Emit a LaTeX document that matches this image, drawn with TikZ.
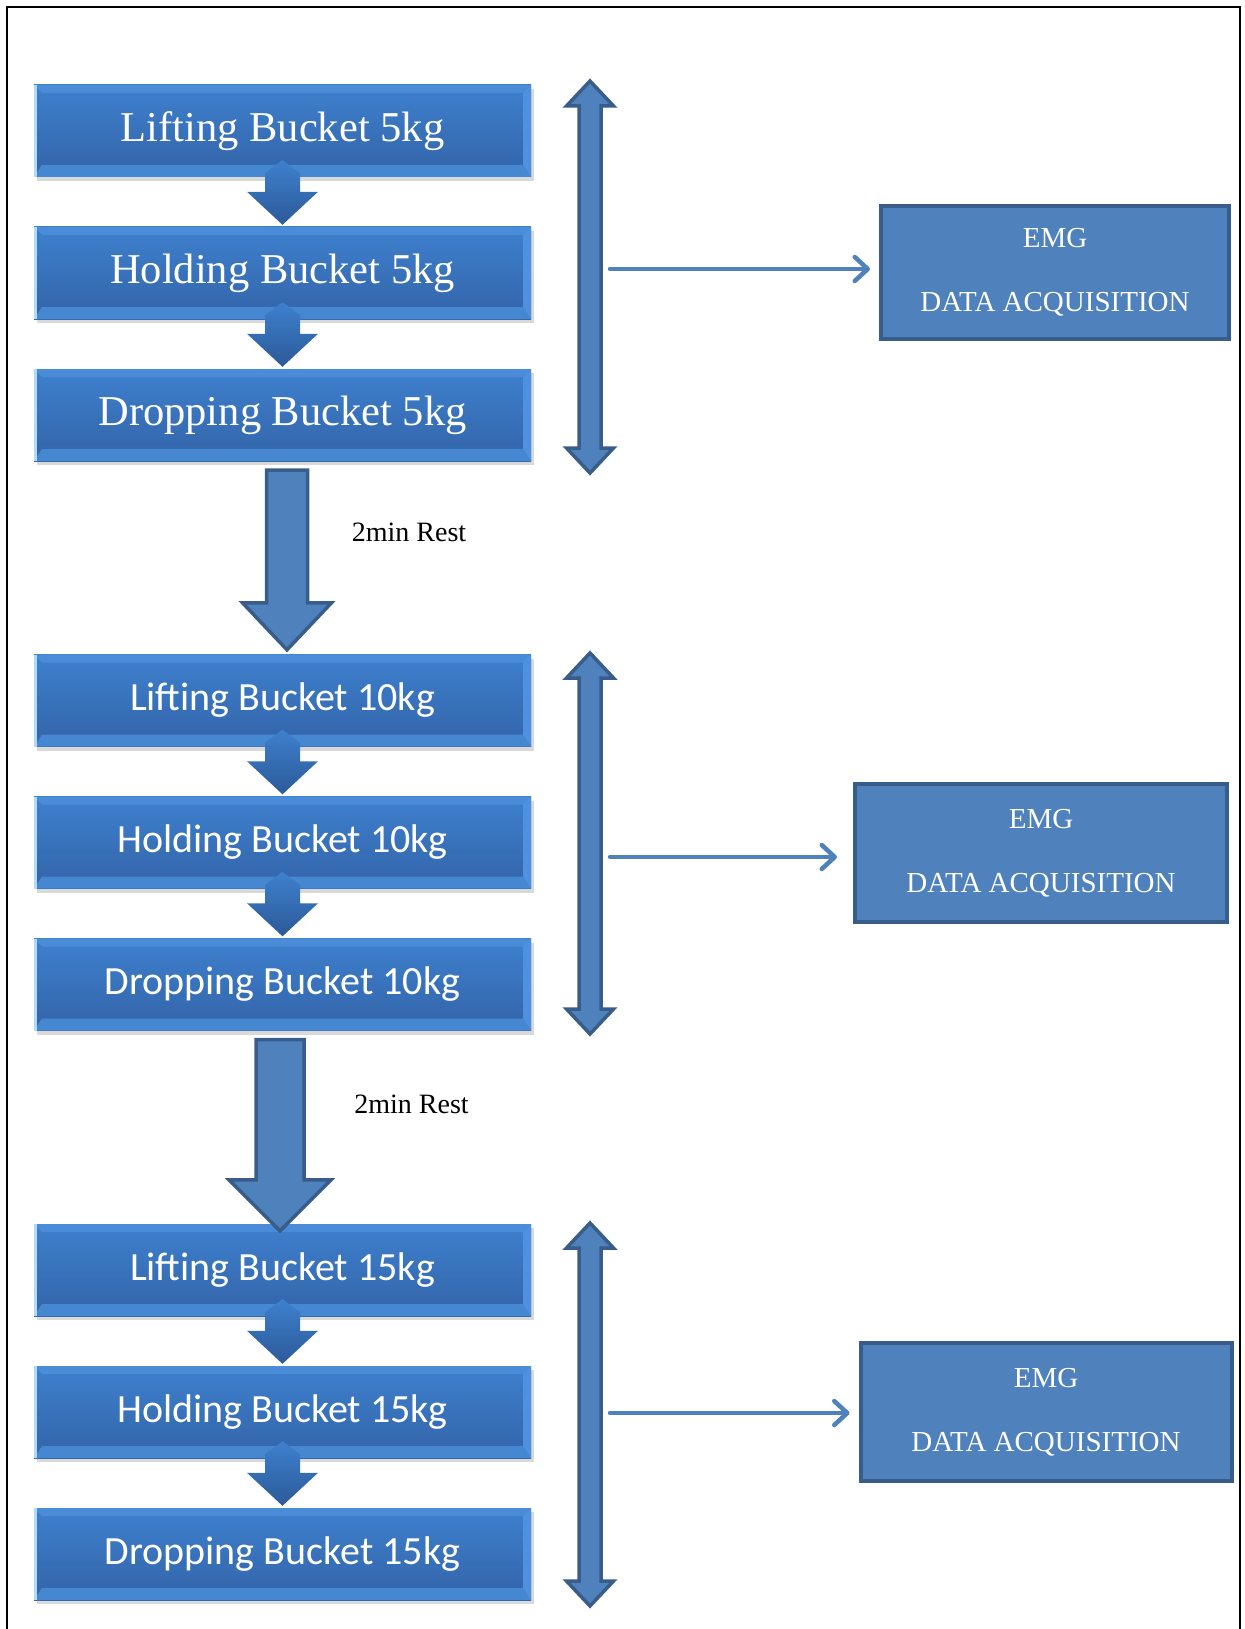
\documentclass[tikz,border=0pt]{standalone}
\usepackage{fontspec}
\setmainfont{Liberation Serif}
\newfontfamily\calibri{Carlito}
\usetikzlibrary{positioning,calc,shadows,arrows.meta}

\definecolor{boxtop}{RGB}{62,128,206}
\definecolor{boxbot}{RGB}{51,100,168}
\definecolor{bevtop}{RGB}{74,140,216}
\definecolor{bevbot}{RGB}{70,135,210}
\definecolor{bevside}{RGB}{78,145,222}
\definecolor{bevedge}{RGB}{175,220,250}
\definecolor{shapefill}{RGB}{79,129,189}
\definecolor{shapeline}{RGB}{56,93,138}
\definecolor{stepdark}{RGB}{44,90,152}

% small arrow between two steps
\newcommand\stepdown[2]{%
  \path[step arrow] let \p1=(#1.south), \p2=(#2.north) in
    (\x1,\y1+17pt) -- (\x1+17.5pt,\y1+4pt) -- (\x1+17.5pt,\y2+35pt) -- (\x1+35.5pt,\y2+35pt)
    -- (\x1,\y2+2pt) -- (\x1-35.5pt,\y2+35pt) -- (\x1-17.5pt,\y2+35pt) -- (\x1-17.5pt,\y1+4pt) -- cycle;}

% big arrow for the rest
\newcommand\restdown[5]{%
  \path[rest arrow] let \p1=#1, \p2=#2 in
    (\x2-#3,\y1) -- (\x2+#3,\y1) -- (\x2+#3,\y2+#5) -- (\x2+#4,\y2+#5) -- (\x2,\y2)
    -- (\x2-#4,\y2+#5) -- (\x2-#3,\y2+#5) -- cycle;}

% two headed arrow beside a group
\newcommand\spanarrow[3]{%
  \path[rest arrow] (#1-11,#2+25) -- (#1-23.5,#2+25) -- (#1,#2) -- (#1+23.5,#2+25) -- (#1+11,#2+25)
    -- (#1+11,#3-25) -- (#1+23.5,#3-25) -- (#1,#3) -- (#1-23.5,#3-25) -- (#1-11,#3-25) -- cycle;}

\begin{document}
\begin{tikzpicture}[x=1pt,y=-1pt,node distance=142pt,
    task node/.style={top color=boxtop,bottom color=boxbot,
      minimum width=497pt,minimum height=92pt,inner sep=0pt,
      text=white,font=\fontsize{42.5}{48}\selectfont,
      drop shadow={opacity=0.3,shadow xshift=3pt,shadow yshift=-4pt},
      path picture={
        \fill[bevtop] (path picture bounding box.north west) -- (path picture bounding box.north east)
          -- ([xshift=-8pt,yshift=-8pt]path picture bounding box.north east)
          -- ([xshift=8pt,yshift=-8pt]path picture bounding box.north west) -- cycle;
        \fill[bevbot] (path picture bounding box.south west) -- (path picture bounding box.south east)
          -- ([xshift=-8pt,yshift=12pt]path picture bounding box.south east)
          -- ([xshift=8pt,yshift=12pt]path picture bounding box.south west) -- cycle;
        \fill[bevside] (path picture bounding box.north east) -- (path picture bounding box.south east)
          -- ([xshift=-8pt,yshift=12pt]path picture bounding box.south east)
          -- ([xshift=-8pt,yshift=-8pt]path picture bounding box.north east) -- cycle;
        \draw[bevedge,line width=3pt] ([xshift=1.5pt]path picture bounding box.north west)
          -- ([xshift=1.5pt]path picture bounding box.south west);}},
    sans node/.style={task node,font=\calibri\fontsize{40}{46}\selectfont},
    emg node/.style={draw=shapeline,line width=4pt,fill=shapefill,text=white,
      align=center,inner sep=0pt,font=\fontsize{29}{64}\selectfont},
    step arrow/.style={top color=boxtop,bottom color=stepdark},
    rest arrow/.style={fill=shapefill,draw=shapeline,line width=3.5pt},
    link/.style={draw=shapefill,line width=4.5pt,line cap=round,
      -{Straight Barb[length=13pt,width=24pt,round]}},
    rest label/.style={font=\fontsize{28}{32}\selectfont}]

  \useasboundingbox (0,0) rectangle (1244,1629);
  \draw[line width=2pt] (7,1640) -- (7,7) -- (1240,7) -- (1240,1640);

  % 5kg
  \node[task node] (l5) at (282.5,131) {Lifting Bucket 5kg};
  \node[task node] (h5) [below of=l5] {Holding Bucket 5kg};
  \node[task node] (d5) [below of=h5] {Dropping Bucket 5kg};

  % 10kg
  \node[sans node] (l10) at (282.5,700.5) {Lifting Bucket 10kg};
  \node[sans node] (h10) [below of=l10] {Holding Bucket 10kg};
  \node[sans node] (d10) [below of=h10] {Dropping Bucket 10kg};

  % 15kg
  \node[sans node] (l15) at (282.5,1270) {Lifting Bucket 15kg};
  \node[sans node] (h15) [below of=l15] {Holding Bucket 15kg};
  \node[sans node] (d15) [below of=h15] {Dropping Bucket 15kg};

  \stepdown{l5}{h5}  \stepdown{h5}{d5}
  \stepdown{l10}{h10} \stepdown{h10}{d10}
  \stepdown{l15}{h15} \stepdown{h15}{d15}

  \restdown{($(d5.south)+(4.5,9)$)}{($(l10.north)+(4.5,-4.5)$)}{20.5pt}{44.5pt}{47pt}
  \restdown{($(d10.south)+(-2.5,9)$)}{($(l15.north)+(-2.5,7)$)}{24pt}{51pt}{51pt}
  \node[rest label] (r1) at (409,532) {2min Rest};
  \node[rest label] (r2) at (411.5,1104) {2min Rest};

  \spanarrow{590}{81}{473}
  \spanarrow{590}{653}{1034}
  \spanarrow{590}{1223}{1606}

  \node[emg node,minimum width=348pt,minimum height=133pt] (e5) at (1055,272.5) {EMG\\DATA ACQUISITION};
  \node[emg node,minimum width=372pt,minimum height=138pt] (e10) at (1041,853) {EMG\\DATA ACQUISITION};
  \node[emg node,minimum width=371pt,minimum height=138pt] (e15) at (1046,1412) {EMG\\DATA ACQUISITION};

  \coordinate (s5) at (610,269);
  \coordinate (s10) at (610,857);
  \coordinate (s15) at (610,1413);
  \draw[link,shorten >=9pt] (s5) -- (s5 -| e5.west);
  \draw[link,shorten >=16pt] (s10) -- (s10 -| e10.west);
  \draw[link,shorten >=9pt] (s15) -- (s15 -| e15.west);
\end{tikzpicture}
\end{document}
